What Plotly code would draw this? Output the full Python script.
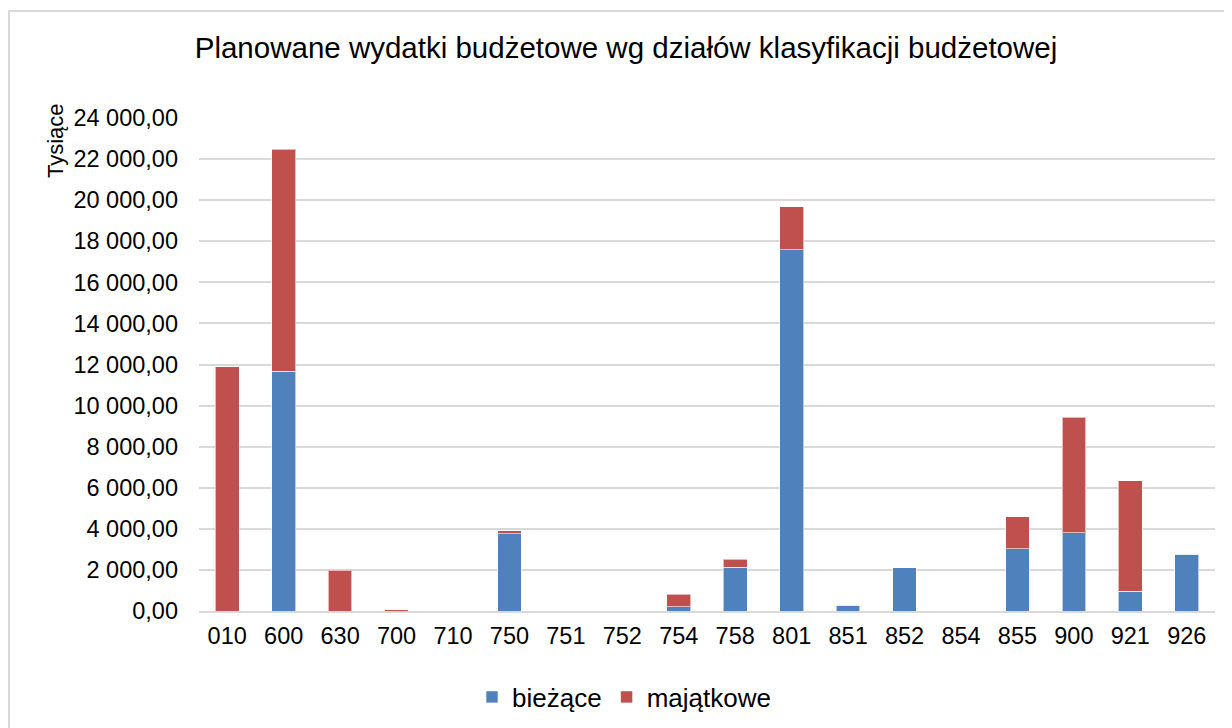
import plotly.graph_objects as go

categories = ["010", "600", "630", "700", "710", "750", "751", "752", "754", "758",
              "801", "851", "852", "854", "855", "900", "921", "926"]
biezace = [0, 11680, 0, 0, 0, 3750, 0, 0, 210, 2130,
           17580, 290, 2110, 0, 3020, 3800, 970, 2760]
majatkowe = [11880, 10810, 1980, 60, 0, 150, 0, 0, 600, 400,
             2090, 0, 0, 0, 1560, 5640, 5360, 0]
y_ticks = list(range(0, 24001, 2000))

FONT = "Liberation Sans, Arial, sans-serif"
OFF = 8  # page body margin
W, H = 1232 - OFF, 728 - OFF
L, T = 199 - OFF, 118 - OFF
R = W - (1215 - OFF)
B = H - (611 - OFF)
pw, ph = W - L - R, H - T - B


def px(x):
    return (x - OFF - L) / pw


def py(y):
    return (H - B - (y - OFF)) / ph


fig = go.Figure()
fig.add_trace(go.Bar(x=categories, y=biezace, name="bieżące",
                     marker=dict(color="#4F81BD", line=dict(color="rgba(255,255,255,0.6)", width=1))))
fig.add_trace(go.Bar(x=categories, y=majatkowe, name="majątkowe",
                     marker=dict(color="#C0504D", line=dict(color="rgba(255,255,255,0.6)", width=1))))

fig.update_layout(
    width=W, height=H, barmode="stack", bargap=0.58,
    separators=", ",
    paper_bgcolor="white", plot_bgcolor="white",
    margin=dict(l=L, r=R, t=T, b=B, autoexpand=False),
    font=dict(family=FONT, color="#000000", size=23),
    title=dict(text="Planowane wydatki budżetowe wg działów klasyfikacji budżetowej",
               x=(626 - OFF) / W, xanchor="center", y=1 - (48 - OFF) / H, yanchor="middle",
               font=dict(size=29.5, color="#000000")),
    xaxis=dict(showgrid=False, showline=True, linecolor="#D9D9D9", linewidth=2,
               ticks="", tickfont=dict(size=23.5), ticklabelstandoff=3),
    yaxis=dict(range=[0, 24000], tickvals=y_ticks, tickformat=",.2f",
               showgrid=True, gridcolor="#D9D9D9", gridwidth=1.5,
               zeroline=False, showline=False, ticks="", tickfont=dict(size=23.5),
               ticklabelstandoff=20),
    legend=dict(orientation="h", x=px(624), xanchor="center",
                y=py(697), yanchor="middle", font=dict(size=26),
                itemwidth=30, traceorder="normal"),
    showlegend=True,
)

fig.add_annotation(text="Tysiące", textangle=-90, xref="paper", yref="paper",
                   x=px(55), y=py(141), showarrow=False,
                   font=dict(size=22, color="#000000"), xanchor="center", yanchor="middle")

fig.add_shape(type="rect", xref="paper", yref="paper",
              x0=px(9), x1=px(1260), y0=py(760), y1=py(11),
              line=dict(color="#D9D9D9", width=2), fillcolor="rgba(0,0,0,0)", layer="below")

fig.write_html("out.html")
